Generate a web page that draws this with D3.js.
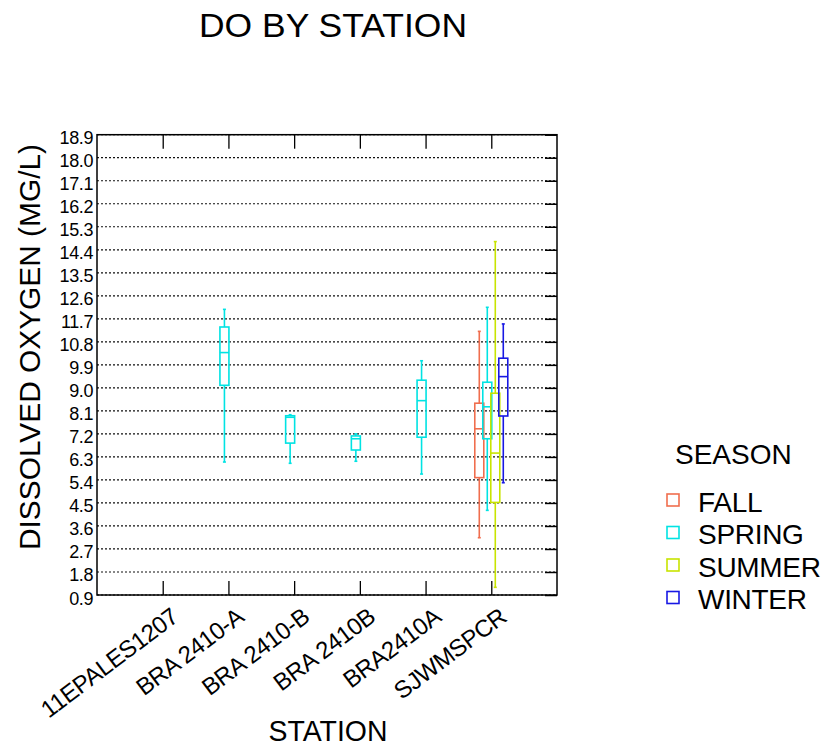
<!DOCTYPE html>
<html>
<head>
<meta charset="utf-8">
<script src="https://cdn.jsdelivr.net/npm/d3@7"></script>
<style>
  html, body { margin: 0; padding: 0; background: #fff; }
  svg { display: block; font-family: "Liberation Sans", Arial, sans-serif; }
</style>
</head>
<body>
<div id="chart"></div>
<script>
// Categories
const stations = ["11EPALES1207", "BRA 2410-A", "BRA 2410-B", "BRA 2410B", "BRA2410A", "SJWMSPCR"];
const seasons = ["FALL", "SPRING", "SUMMER", "WINTER"];
const yTicks = [0.9, 1.8, 2.7, 3.6, 4.5, 5.4, 6.3, 7.2, 8.1, 9.0, 9.9, 10.8, 11.7, 12.6, 13.5, 14.4, 15.3, 16.2, 17.1, 18.0, 18.9];
// Box stats (one entry per box)
const boxStation = ["BRA 2410-A", "BRA 2410-B", "BRA 2410B", "BRA2410A", "SJWMSPCR", "SJWMSPCR", "SJWMSPCR", "SJWMSPCR"];
const boxSeason = ["SPRING", "SPRING", "SPRING", "SPRING", "FALL", "SPRING", "SUMMER", "WINTER"];
const boxMin = [6.1, 6.05, 6.13, 5.63, 3.14, 4.21, 1.2, 5.29];
const boxQ1 = [9.1, 6.84, 6.57, 7.07, 5.49, 7.01, 4.52, 7.9];
const boxMed = [10.38, 7.85, 7.01, 8.5, 7.4, 8.26, 6.45, 9.44];
const boxQ3 = [11.38, 7.91, 7.12, 9.3, 8.4, 9.22, 8.79, 10.16];
const boxMax = [12.07, 7.95, 7.2, 10.06, 11.21, 12.15, 14.72, 11.5];

const colors = { FALL: "#f06e4e", SPRING: "#00e3e3", SUMMER: "#c8e400", WINTER: "#1818e4" };
const w = 823, h = 747;
const m = { top: 134.7, right: 557, bottom: 595, left: 97 };
const font = "Liberation Sans, Arial, sans-serif";

const svg = d3.select("#chart").append("svg")
    .attr("width", w)
    .attr("height", h);

// Scales
const x = d3.scalePoint().domain(stations).range([m.left, m.right]).padding(1);
const dx = d3.scalePoint().domain(seasons).range([-12, 12]);
const y = d3.scaleLinear().domain([0.9, 18.9]).range([m.bottom, m.top]);

// Grid lines (dotted)
svg.append("g")
    .selectAll("line")
    .data(yTicks)
    .join("line")
    .attr("x1", m.left)
    .attr("x2", m.right)
    .attr("y1", d => y(d))
    .attr("y2", d => y(d))
    .attr("stroke", "#111")
    .attr("stroke-width", 1.2)
    .attr("stroke-dasharray", "2,2");

// Y axis labels
svg.append("g")
    .attr("transform", `translate(${m.left}, 0)`)
    .call(d3.axisLeft(y).tickValues(yTicks).tickSize(0).tickPadding(4).tickFormat(d3.format(".1f")))
    .call(g => g.select(".domain").remove())
    .selectAll("text")
    .attr("dy", "0.5em")
    .style("font-size", "18px")
    .style("font-family", font)
    .style("letter-spacing", "-0.4px")
    .attr("fill", "#000");

// Right inner ticks
svg.append("g")
    .attr("transform", `translate(${m.right}, 0)`)
    .call(d3.axisLeft(y).tickValues(yTicks).tickSize(12).tickFormat(""))
    .call(g => g.select(".domain").remove())
    .selectAll("line")
    .attr("stroke", "#000")
    .attr("stroke-width", 1.5);

// Top and bottom inner ticks
svg.append("g")
    .attr("transform", `translate(0, ${m.top})`)
    .call(d3.axisBottom(x).tickSize(14).tickFormat(""))
    .call(g => g.select(".domain").remove())
    .selectAll("line").attr("stroke", "#000").attr("stroke-width", 1.3);
svg.append("g")
    .attr("transform", `translate(0, ${m.bottom})`)
    .call(d3.axisTop(x).tickSize(14).tickFormat(""))
    .call(g => g.select(".domain").remove())
    .selectAll("line").attr("stroke", "#000").attr("stroke-width", 1.3);

// Frame
svg.append("rect")
    .attr("x", m.left)
    .attr("y", m.top)
    .attr("width", m.right - m.left)
    .attr("height", m.bottom - m.top)
    .attr("fill", "none")
    .attr("stroke", "#000")
    .attr("stroke-width", 1.5);

// X axis labels (rotated)
svg.append("g")
    .selectAll("text")
    .data(stations)
    .join("text")
    .attr("transform", d => `translate(${x(d) + 17}, 620) rotate(-37)`)
    .attr("text-anchor", "end")
    .style("font-size", "24px")
    .style("font-family", font)
    .style("letter-spacing", "-0.5px")
    .text(d => d);

// Boxes
const boxes = boxStation.map((s, i) => ({
    station: s,
    season: boxSeason[i],
    min: boxMin[i],
    q1: boxQ1[i],
    med: boxMed[i],
    q3: boxQ3[i],
    max: boxMax[i]
}));
const bw = 9;
const bg = svg.append("g")
    .selectAll("g")
    .data(boxes)
    .join("g")
    .attr("transform", d => `translate(${x(d.station) + dx(d.season)}, 0)`)
    .attr("stroke", d => colors[d.season])
    .attr("stroke-width", 1.6)
    .attr("fill", "none");
// Whiskers
bg.append("line").attr("x1", 0).attr("x2", 0).attr("y1", d => y(d.max)).attr("y2", d => y(d.q3));
bg.append("line").attr("x1", 0).attr("x2", 0).attr("y1", d => y(d.q1)).attr("y2", d => y(d.min));
// Caps
bg.append("line").attr("x1", -1.5).attr("x2", 1.5).attr("y1", d => y(d.max)).attr("y2", d => y(d.max));
bg.append("line").attr("x1", -1.5).attr("x2", 1.5).attr("y1", d => y(d.min)).attr("y2", d => y(d.min));
// Box
bg.append("rect")
    .attr("x", -bw / 2)
    .attr("width", bw)
    .attr("y", d => y(d.q3))
    .attr("height", d => y(d.q1) - y(d.q3));
// Median
bg.append("line").attr("x1", -bw / 2).attr("x2", bw / 2).attr("y1", d => y(d.med)).attr("y2", d => y(d.med));

// Title
svg.append("text")
    .attr("x", 333)
    .attr("y", 37)
    .attr("text-anchor", "middle")
    .attr("textLength", 268)
    .attr("lengthAdjust", "spacingAndGlyphs")
    .style("font-size", "33px")
    .style("font-family", font)
    .text("DO BY STATION");

// Y title
svg.append("text")
    .attr("transform", "translate(40, 347) rotate(-90)")
    .attr("text-anchor", "middle")
    .attr("textLength", 406)
    .attr("lengthAdjust", "spacingAndGlyphs")
    .style("font-size", "30px")
    .style("font-family", font)
    .text("DISSOLVED OXYGEN (MG/L)");

// X title
svg.append("text")
    .attr("x", 328)
    .attr("y", 741)
    .attr("text-anchor", "middle")
    .attr("textLength", 119)
    .attr("lengthAdjust", "spacingAndGlyphs")
    .style("font-size", "29px")
    .style("font-family", font)
    .text("STATION");

// Legend
const legend = svg.append("g").attr("transform", "translate(666, 0)");
legend.append("text")
    .attr("x", 9)
    .attr("y", 464)
    .style("font-size", "28px")
    .style("font-family", font)
    .text("SEASON");
const items = legend.selectAll("g.item")
    .data(seasons)
    .join("g")
    .attr("class", "item")
    .attr("transform", (d, i) => `translate(0, ${494 + i * 32.5})`);
items.append("rect")
    .attr("x", 1)
    .attr("y", 0)
    .attr("width", 12)
    .attr("height", 12)
    .attr("fill", "none")
    .attr("stroke", d => colors[d])
    .attr("stroke-width", 1.6);
items.append("text")
    .attr("x", 32)
    .attr("y", 17.5)
    .style("font-size", "28px")
    .style("font-family", font)
    .style("letter-spacing", "-0.3px")
    .text(d => d);
</script>
</body>
</html>
